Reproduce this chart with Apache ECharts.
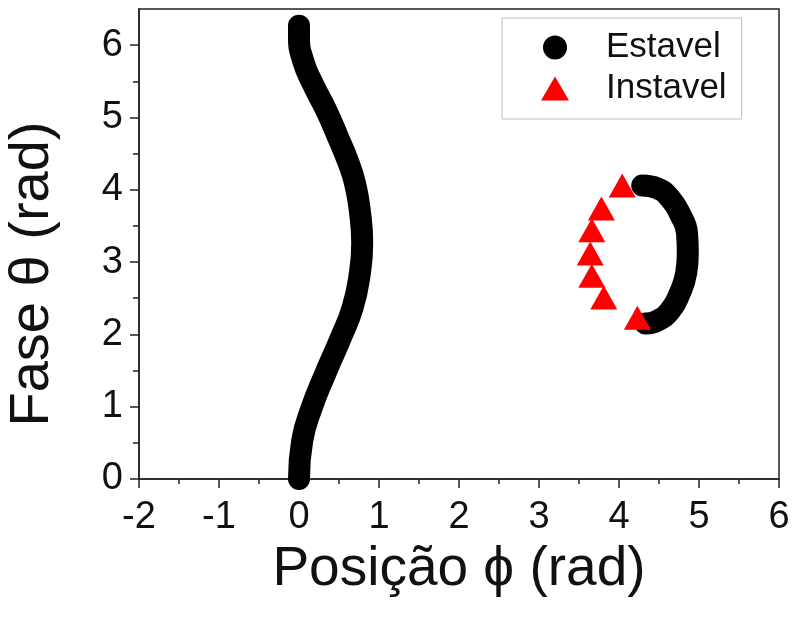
<!DOCTYPE html>
<html>
<head>
<meta charset="utf-8">
<script src="https://cdn.jsdelivr.net/npm/echarts@6/dist/echarts.min.js"></script>
<style>
  html, body { margin: 0; padding: 0; background: #fff; }
  #chart { width: 793px; height: 628px; }
</style>
</head>
<body>
<div id="chart"></div>
<script>
// Stable branch near phi = 0 (phase theta, position phi)
const stableLeftTheta = [0.00, 0.53, 0.99, 1.46, 1.92, 2.37, 2.84, 3.26, 3.71, 4.09, 4.40, 4.72, 5.10, 5.47, 5.79, 6.11, 6.27];
const stableLeftPhi   = [0.00, 0.04, 0.16, 0.33, 0.51, 0.67, 0.76, 0.79, 0.76, 0.70, 0.61, 0.49, 0.34, 0.17, 0.05, 0.00, 0.00];

// Stable arc near phi = 4.5
const stableArcTheta = [4.06, 4.02, 3.88, 3.67, 3.40, 3.12, 2.85, 2.57, 2.33, 2.19, 2.15];
const stableArcPhi   = [4.29, 4.48, 4.64, 4.76, 4.85, 4.86, 4.84, 4.76, 4.64, 4.48, 4.33];

// Unstable points
const unstableTheta = [4.06, 3.74, 3.44, 3.12, 2.81, 2.51, 2.23];
const unstablePhi   = [4.04, 3.78, 3.66, 3.64, 3.66, 3.81, 4.23];

// Axis ticks
const xTicks = [-2, -1, 0, 1, 2, 3, 4, 5, 6];
const yMajorTicks = [0, 1, 2, 3, 4, 5, 6];
const yMinorTicks = [0.5, 1.5, 2.5, 3.5, 4.5, 5.5];

const seriesNames = ['Estavel', 'Instavel'];

const pairs = (xs, ys) => xs.map((x, i) => [x, ys[i]]);

const FONT = '"Liberation Sans", Arial, Helvetica, sans-serif';
const AXIS_COLOR = '#222';

const chart = echarts.init(document.getElementById('chart'), null, { renderer: 'canvas' });

const stableLine = (data) => ({
  name: seriesNames[0],
  type: 'line',
  data: data,
  smooth: 0.5,
  symbol: 'none',
  clip: true,
  color: '#000',
  lineStyle: { color: '#000', width: 22, cap: 'round', join: 'round' },
  z: 2
});

chart.setOption({
  animation: false,
  backgroundColor: '#fff',
  grid: {
    left: 139, top: 9, width: 640, height: 470,
    outerBoundsMode: 'none',
    containLabel: false,
    show: true, borderColor: AXIS_COLOR, borderWidth: 1.5, backgroundColor: 'transparent'
  },
  legend: {
    orient: 'vertical',
    left: 502, top: 18,
    padding: [12, 15, 13, 39],
    itemGap: 6,
    itemWidth: 28, itemHeight: 24,
    borderColor: '#bdbdbd', borderWidth: 1,
    textStyle: { fontFamily: FONT, fontSize: 35, color: '#111', padding: [0, 0, 0, 32] },
    data: [
      { name: seriesNames[0], icon: 'circle' },
      { name: seriesNames[1], icon: 'triangle' }
    ]
  },
  xAxis: {
    type: 'value',
    min: xTicks[0], max: xTicks[xTicks.length - 1], interval: 1,
    name: 'Posição ϕ (rad)',
    nameLocation: 'middle',
    nameGap: 57,
    nameTextStyle: { fontFamily: FONT, fontSize: 55, color: '#111' },
    axisLine: { show: true, onZero: false, lineStyle: { color: AXIS_COLOR, width: 1.5 } },
    axisTick: { show: true, inside: false, length: 9, lineStyle: { color: AXIS_COLOR, width: 1.5 } },
    minorTick: { show: true, splitNumber: 2, length: 5, lineStyle: { color: AXIS_COLOR, width: 1.5 } },
    axisLabel: { fontFamily: FONT, fontSize: 38, color: '#111', margin: 20 },
    splitLine: { show: false }
  },
  yAxis: [
    {
      type: 'value',
      min: 0, max: 6.5,
      name: 'Fase θ (rad)',
      nameLocation: 'middle',
      nameGap: 78,
      nameRotate: 90,
      nameTextStyle: { fontFamily: FONT, fontSize: 56, color: '#111', padding: [0, 60, 0, 0] },
      axisLine: { show: true, onZero: false, lineStyle: { color: AXIS_COLOR, width: 1.5 } },
      axisTick: { show: true, inside: false, length: 9, customValues: yMajorTicks, lineStyle: { color: AXIS_COLOR, width: 1.5 } },
      axisLabel: { fontFamily: FONT, fontSize: 38, color: '#111', margin: 16, customValues: yMajorTicks },
      splitLine: { show: false }
    },
    {
      type: 'value',
      min: 0, max: 6.5,
      position: 'left',
      axisLine: { show: false, onZero: false },
      axisTick: { show: true, inside: false, length: 6, customValues: yMinorTicks, lineStyle: { color: AXIS_COLOR, width: 1.5 } },
      axisLabel: { show: false },
      splitLine: { show: false }
    }
  ],
  series: [
    stableLine(pairs(stableLeftPhi, stableLeftTheta)),
    stableLine(pairs(stableArcPhi, stableArcTheta)),
    {
      name: seriesNames[1],
      type: 'scatter',
      data: pairs(unstablePhi, unstableTheta),
      symbol: 'triangle',
      symbolSize: [27, 24],
      color: '#ff0000',
      itemStyle: { color: '#ff0000', opacity: 1 },
      z: 3
    }
  ]
});
</script>
</body>
</html>
